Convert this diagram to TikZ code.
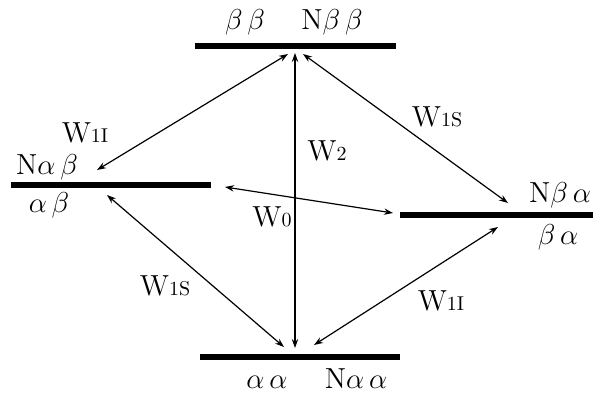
\documentclass[tikz,border=0pt]{standalone}
\usetikzlibrary{arrows.meta}
\begin{document}
\begin{tikzpicture}[x=0.5pt,y=-0.5pt,
  level/.style={line width=2.6pt},
  trans/.style={line width=0.6pt,{Stealth[length=4.5pt,width=3.2pt]}-{Stealth[length=4.5pt,width=3.2pt]}},
  state/.style={inner sep=0pt,font=\fontsize{14.5}{15}\selectfont},
  rate/.style={inner sep=0pt,font=\fontsize{14.5}{15}\selectfont},
  sub/.style={}]
\newcommand{\smallpart}[1]{{\fontsize{10}{10}\selectfont #1}}
\useasboundingbox (0,0) rectangle (593,397);
% levels
\coordinate (T1) at (195,46); \coordinate (T2) at (396,46);
\coordinate (L1) at (11,185); \coordinate (L2) at (211,185);
\coordinate (R1) at (400,215); \coordinate (R2) at (593,215);
\coordinate (B1) at (200,357); \coordinate (B2) at (400,357);
\draw[level] (T1) -- (T2);
\draw[level] (L1) -- (L2);
\draw[level] (R1) -- (R2);
\draw[level] (B1) -- (B2);
% state labels
\node[state,anchor=base] (tbb) at (245,29) {$\beta\,\beta$};
\node[state,anchor=base] (tNbb) at (332,29) {N$\beta\,\beta$};
\node[state,anchor=base] (lNab) at (47,174) {N$\alpha\,\beta$};
\node[state,anchor=base] (lab) at (49,212) {$\alpha\,\beta$};
\node[state,anchor=base] (rNba) at (560,202) {N$\beta\,\alpha$};
\node[state,anchor=base] (rba) at (558,244) {$\beta\,\alpha$};
\node[state,anchor=base] (baa) at (267,388) {$\alpha\,\alpha$};
\node[state,anchor=base] (bNaa) at (356,388) {N$\alpha\,\alpha$};
% arrow end points
\coordinate (tA) at (288,54);
\coordinate (tV) at (295,53);
\coordinate (tB) at (303,54);
\coordinate (lA) at (97,170);
\coordinate (lB) at (107,195);
\coordinate (lW) at (225,187);
\coordinate (rA) at (508,203);
\coordinate (rB) at (498,227);
\coordinate (rW) at (393,213);
\coordinate (bA) at (284,347);
\coordinate (bV) at (295,348);
\coordinate (bB) at (314,345);
% transitions
\draw[trans] (tV) -- (bV);
\draw[trans] (tA) -- (lA);
\draw[trans] (tB) -- (rA);
\draw[trans] (lW) -- (rW);
\draw[trans] (lB) -- (bA);
\draw[trans] (bB) -- (rB);
% rate labels
\node[rate] (w1it) at (85,133) {W\smallpart{1I}};
\node[rate] (w2) at (327,151) {W\smallpart{2}};
\node[rate] (w0) at (272,217) {W\smallpart{0}};
\node[rate] (w1st) at (437,117) {W\smallpart{1S}};
\node[rate] (w1sb) at (165,286) {W\smallpart{1S}};
\node[rate] (w1ib) at (441,301) {W\smallpart{1I}};
\end{tikzpicture}
\end{document}
